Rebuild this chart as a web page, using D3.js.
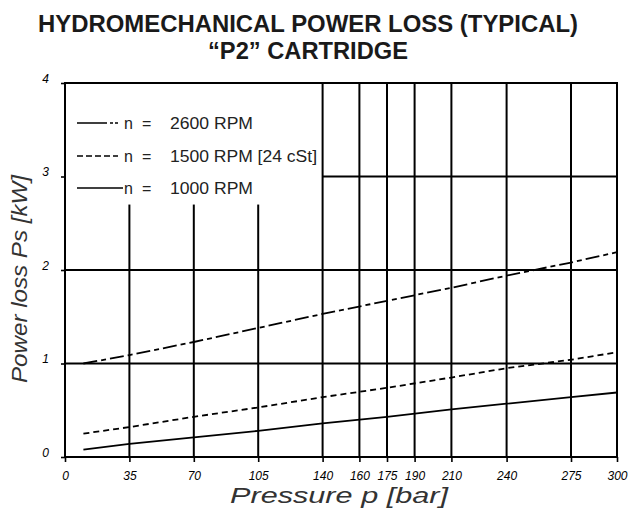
<!DOCTYPE html>
<html>
<head>
<meta charset="utf-8">
<script src="https://cdn.jsdelivr.net/npm/d3@7"></script>
<style>
  body { margin: 0; background: #fff; }
  svg { display: block; }
</style>
</head>
<body>
<svg id="chart" width="630" height="509"></svg>
<script>
// ---- data ----
const xTicks = [0, 35, 70, 105, 140, 160, 175, 190, 210, 240, 275, 300];
const yTicks = [0, 1, 2, 3, 4];
const pressure = [10, 35, 70, 105, 140, 175, 210, 240, 275, 300];
const loss2600 = [1.00, 1.09, 1.23, 1.38, 1.53, 1.67, 1.81, 1.94, 2.08, 2.19];
const loss1500 = [0.25, 0.32, 0.43, 0.53, 0.64, 0.74, 0.85, 0.95, 1.04, 1.12];
const loss1000 = [0.08, 0.14, 0.21, 0.28, 0.36, 0.43, 0.51, 0.57, 0.64, 0.69];
const seriesNames = ["2600 RPM", "1500 RPM [24 cSt]", "1000 RPM"];
const titleLines = ["HYDROMECHANICAL POWER LOSS (TYPICAL)", "\u201CP2\u201D CARTRIDGE"];

// ---- layout ----
const svg = d3.select("#chart");
const m = {left: 65, right: 13, top: 83, bottom: 52};
const W = 630, H = 509;
const x = d3.scaleLinear().domain([0, 300]).range([m.left, W - m.right]);
const y = d3.scaleLinear().domain([0, 4]).range([H - m.bottom, m.top]);

const font = "'Liberation Sans', Arial, sans-serif";

// title
const titleLen = [540, 200];
svg.selectAll("text.title").data(titleLines).join("text")
  .attr("class", "title")
  .attr("x", 308).attr("y", (d, i) => 32 + i * 27)
  .attr("text-anchor", "middle")
  .attr("font-family", font)
  .attr("font-weight", "bold")
  .attr("font-size", 23)
  .attr("fill", "#1a1a1a")
  .attr("textLength", (d, i) => titleLen[i])
  .attr("lengthAdjust", "spacingAndGlyphs")
  .text(d => d);

const g = svg.append("g");
const gridStroke = 2;

// horizontal grid lines: 1 and 2 full width; 3 from 140 on
g.selectAll("line.hgrid").data([1, 2]).join("line")
  .attr("x1", x(0)).attr("x2", x(300))
  .attr("y1", d => y(d)).attr("y2", d => y(d))
  .attr("stroke", "#000").attr("stroke-width", gridStroke);
g.append("line")
  .attr("x1", x(140)).attr("x2", x(300))
  .attr("y1", y(3)).attr("y2", y(3))
  .attr("stroke", "#000").attr("stroke-width", gridStroke);

// vertical grid: 35..105 short (below legend), 140.. full
g.selectAll("line.vshort").data([35, 70, 105]).join("line")
  .attr("x1", d => x(d)).attr("x2", d => x(d))
  .attr("y1", y(2.7)).attr("y2", y(0))
  .attr("stroke", "#000").attr("stroke-width", gridStroke);
g.selectAll("line.vfull").data([140, 160, 175, 190, 210, 240, 275]).join("line")
  .attr("x1", d => x(d)).attr("x2", d => x(d))
  .attr("y1", y(4)).attr("y2", y(0))
  .attr("stroke", "#000").attr("stroke-width", gridStroke);

// frame
g.append("rect")
  .attr("x", x(0)).attr("y", y(4))
  .attr("width", x(300) - x(0)).attr("height", y(0) - y(4))
  .attr("fill", "none").attr("stroke", "#000").attr("stroke-width", gridStroke);

// axes
const xAxis = d3.axisBottom(x).tickValues(xTicks).tickSize(5).tickSizeOuter(0).tickPadding(9);
const yAxis = d3.axisLeft(y).tickValues(yTicks).tickFormat(d3.format("d")).tickSize(4).tickSizeOuter(0).tickPadding(12);

const gx = svg.append("g").attr("transform", `translate(0,${y(0)})`).call(xAxis);
gx.select(".domain").remove();
gx.selectAll(".tick line").attr("stroke", "#000").attr("stroke-width", 1.6);
gx.selectAll(".tick text").attr("font-family", font).attr("font-style", "italic")
  .attr("font-size", 12).attr("fill", "#000");

const gy = svg.append("g").attr("transform", `translate(${x(0)},0)`).call(yAxis);
gy.select(".domain").remove();
gy.selectAll(".tick line").attr("stroke", "#000").attr("stroke-width", 1.6);
gy.selectAll(".tick text").attr("font-family", font).attr("font-style", "italic")
  .attr("font-size", 12).attr("fill", "#000").attr("dy", "-0.05em");

// axis titles
svg.append("text")
  .attr("x", 339).attr("y", 503)
  .attr("text-anchor", "middle")
  .attr("font-family", font).attr("font-style", "italic")
  .attr("font-size", 22).attr("fill", "#333")
  .attr("textLength", 218).attr("lengthAdjust", "spacingAndGlyphs")
  .text("Pressure p [bar]");
svg.append("text")
  .attr("transform", "translate(27,279) rotate(-90)")
  .attr("text-anchor", "middle")
  .attr("font-family", font).attr("font-style", "italic")
  .attr("font-size", 22).attr("fill", "#333")
  .attr("textLength", 208).attr("lengthAdjust", "spacingAndGlyphs")
  .text("Power loss Ps [kW]");

// data lines
const dashes = ["14,4,5,4", "6,4", null];
const seriesData = [loss2600, loss1500, loss1000];
const line = d3.line().x(d => x(d[0])).y(d => y(d[1]));
seriesData.forEach((vals, i) => {
  const pts = pressure.map((p, j) => [p, vals[j]]);
  svg.append("path")
    .datum(pts)
    .attr("d", line)
    .attr("fill", "none")
    .attr("stroke", "#000")
    .attr("stroke-width", 1.8)
    .attr("stroke-dasharray", dashes[i]);
});

// legend
const legY = [123, 156, 188];
const legendDash = ["30,3,3,2,3", "6,3", null];
const nameLen = [83, 147, 83];
seriesNames.forEach((name, i) => {
  svg.append("line")
    .attr("x1", 77).attr("x2", i === 2 ? 123 : 118)
    .attr("y1", legY[i]).attr("y2", legY[i])
    .attr("stroke", "#000").attr("stroke-width", 1.6)
    .attr("stroke-dasharray", legendDash[i]);
  const ty = legY[i] + 6;
  const common = t => t.attr("y", ty).attr("font-family", font)
    .attr("font-size", 16).attr("fill", "#222");
  svg.append("text").call(common).attr("x", 124).text("n");
  svg.append("text").call(common).attr("x", 142).text("=");
  svg.append("text").call(common).attr("x", 170)
    .attr("textLength", nameLen[i]).attr("lengthAdjust", "spacingAndGlyphs")
    .text(name);
});
</script>
</body>
</html>
